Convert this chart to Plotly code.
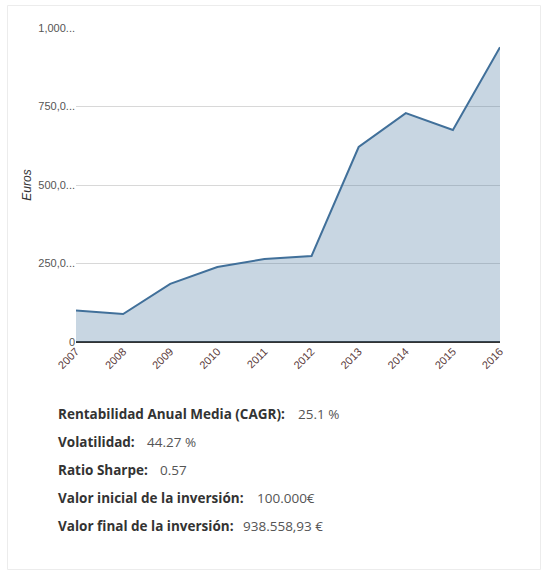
import plotly.graph_objects as go

years = [2007, 2008, 2009, 2010, 2011, 2012, 2013, 2014, 2015, 2016]
values = [100000, 89000, 185000, 239000, 264000, 274000, 621000, 729000, 675000, 938559]
y_tickvals = [0, 250000, 500000, 750000, 1000000]
y_ticktext = ["0", "250,0...", "500,0...", "750,0...", "1,000..."]
stat_labels = ["Rentabilidad Anual Media (CAGR):", "Volatilidad:", "Ratio Sharpe:",
               "Valor inicial de la inversión:", "Valor final de la inversión:"]
stat_values = ["25.1 %", "44.27 %", "0.57", "100.000€", "938.558,93 €"]

W, H = 547, 574
L, R, T, B = 76, 500, 28, 342  # plot area in pixels


def px_x(x):
    return (x - L) / (R - L)


def px_y(y):
    return (B - y) / (B - T)


fig = go.Figure()
fig.add_trace(go.Scatter(
    x=years, y=values, mode="lines", fill="tozeroy",
    line=dict(color="#41709a", width=2),
    fillcolor="rgba(65,112,154,0.29)",
    hoverinfo="x+y", showlegend=False,
))

annotations = []
label_y = [414, 442, 470, 498, 526]
value_x = [296, 145, 158, 255, 241]
for lab, val, yy, vx in zip(stat_labels, stat_values, label_y, value_x):
    annotations.append(dict(
        text="<b>" + lab + "</b>", x=px_x(56), y=px_y(yy), xref="paper", yref="paper",
        xanchor="left", yanchor="middle", showarrow=False,
        font=dict(family="Open Sans", size=13.5, color="#333333"),
    ))
    annotations.append(dict(
        text=val, x=px_x(vx), y=px_y(yy), xref="paper", yref="paper",
        xanchor="left", yanchor="middle", showarrow=False,
        font=dict(family="Open Sans", size=13.5, color="#555555"),
    ))

fig.update_layout(
    width=W, height=H,
    margin=dict(l=L, r=W - R, t=T, b=H - B),
    paper_bgcolor="white", plot_bgcolor="white",
    font=dict(family="Liberation Sans, Arial", size=11, color="#444444"),
    xaxis=dict(
        range=[2007, 2016], tickvals=years, ticktext=[str(y) for y in years],
        tickangle=-45, showgrid=False, zeroline=False, showline=False,
        tickfont=dict(size=11, color="#5a3a3a"), ticks="",
    ),
    yaxis=dict(
        range=[0, 1000000], tickvals=y_tickvals, ticktext=y_ticktext,
        showgrid=True, gridcolor="#d8d8d8", gridwidth=1,
        zeroline=True, zerolinecolor="#333333", zerolinewidth=1.5,
        ticks="", ticklen=0, tickfont=dict(size=11, color="#555555"),
        title=dict(text="<i>Euros</i>", font=dict(size=12, color="#333333"), standoff=4),
    ),
    shapes=[dict(
        type="rect", xref="paper", yref="paper",
        x0=px_x(7.5), x1=px_x(540.5), y0=px_y(569.5), y1=px_y(5.5),
        line=dict(color="#ececec", width=1), fillcolor="rgba(0,0,0,0)", layer="below",
    )],
    annotations=annotations,
)

fig.write_html("out.html")
